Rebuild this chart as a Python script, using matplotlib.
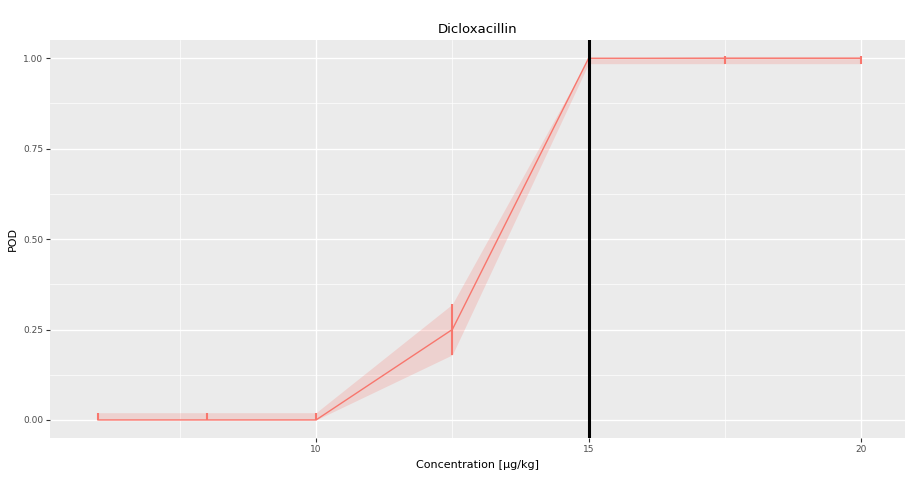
import matplotlib
matplotlib.use("Agg")
import matplotlib.pyplot as plt
from matplotlib.ticker import MultipleLocator, FixedLocator

conc = [6, 8, 10, 12.5, 15, 17.5, 20]
pod = [0.0, 0.0, 0.0, 0.25, 1.0, 1.0, 1.0]
lower = [0.0, 0.0, 0.0, 0.18, 0.985, 0.985, 0.985]
upper = [0.02, 0.02, 0.02, 0.32, 1.0, 1.005, 1.005]
vline_x = 15
title = "Dicloxacillin"
xlabel = "Concentration [\u00b5g/kg]"
ylabel = "POD"
xticks = [10, 15, 20]
yticks = [0.0, 0.25, 0.5, 0.75, 1.0]
ytick_labels = ["0.00", "0.25", "0.50", "0.75", "1.00"]

col = "#F8766D"
fig = plt.figure(figsize=(9.13, 4.84), dpi=100)
ax = fig.add_axes([0.0548, 0.095, 0.9362, 0.822])
ax.set_facecolor("#EBEBEB")
for s in ax.spines.values():
    s.set_visible(False)

ax.set_xlim(5.12, 20.8)
ax.set_ylim(-0.05, 1.05)
ax.xaxis.set_major_locator(FixedLocator(xticks))
ax.xaxis.set_minor_locator(FixedLocator([7.5, 12.5, 17.5]))
ax.yaxis.set_major_locator(FixedLocator(yticks))
ax.yaxis.set_minor_locator(FixedLocator([0.125, 0.375, 0.625, 0.875]))
ax.set_yticklabels(ytick_labels)
ax.grid(which="major", color="white", linewidth=1.0)
ax.grid(which="minor", color="white", linewidth=0.5)
ax.set_axisbelow(True)
ax.tick_params(which="major", length=3, color="#333333", labelsize=6.5, labelcolor="#4D4D4D", pad=2)
ax.tick_params(which="minor", length=0)

ax.fill_between(conc, lower, upper, color=col, alpha=0.22, linewidth=0)
ax.plot(conc, pod, color=col, linewidth=1.0)
ax.vlines(conc, lower, upper, color=col, linewidth=1.5)
ax.axvline(vline_x, color="black", linewidth=2.2)

ax.set_title(title, fontsize=9.5, pad=5)
ax.set_xlabel(xlabel, fontsize=8, labelpad=4)
ax.set_ylabel(ylabel, fontsize=8, labelpad=4)

fig.savefig("out.png", dpi=100, facecolor="white")
